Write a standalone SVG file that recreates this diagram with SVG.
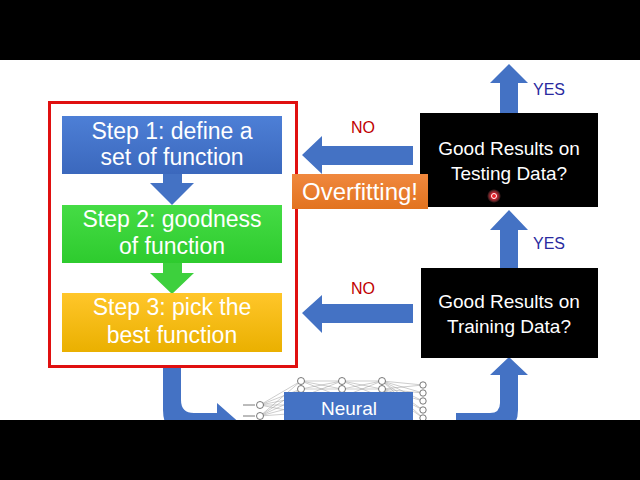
<svg xmlns="http://www.w3.org/2000/svg" width="640" height="480" viewBox="0 0 640 480">
<defs>
<linearGradient id="gBlue" x1="0" y1="0" x2="0" y2="1"><stop offset="0" stop-color="#4d7fd6"/><stop offset="1" stop-color="#3b68bd"/></linearGradient>
<linearGradient id="gGreen" x1="0" y1="0" x2="0" y2="1"><stop offset="0" stop-color="#45dc45"/><stop offset="1" stop-color="#2ecb2e"/></linearGradient>
<linearGradient id="gOrange" x1="0" y1="0" x2="0" y2="1"><stop offset="0" stop-color="#ffc62a"/><stop offset="1" stop-color="#eab000"/></linearGradient>
<linearGradient id="gOver" x1="0" y1="0" x2="0" y2="1"><stop offset="0" stop-color="#f0883e"/><stop offset="1" stop-color="#e2731f"/></linearGradient>
<radialGradient id="gDot"><stop offset="0" stop-color="#ff2020"/><stop offset="0.45" stop-color="#e02030" stop-opacity="0.9"/><stop offset="1" stop-color="#ff8080" stop-opacity="0"/></radialGradient>
</defs>
<style>
text{font-family:"Liberation Sans","Open Sans",Arial,sans-serif;text-anchor:middle}
.w{fill:#ffffff;font-size:19px}
.s{fill:#ffffff;font-size:23px}
.no{fill:#c00000;font-size:16px}
.yes{fill:#2a2aa0;font-size:16px}
.arrow{fill:#4472c4}
.edge{stroke:#9a9a9a;stroke-width:0.5;fill:none}
.nd{fill:#ffffff;stroke:#555555;stroke-width:0.8}
</style>
<rect x="0" y="0" width="640" height="480" fill="#ffffff"/>

<g id="connectors">
<path d="M163,174 L182,174 L182,183 L194,183 L172,205 L150,183 L163,183 Z" class="arrow"/>
<path d="M163,263 L182,263 L182,273 L194,273 L172,294 L150,273 L163,273 Z" fill="#3dd03d"/>
<path d="M413,146 L413,165 L322,165 L322,174 L302,155 L322,136 L322,146 Z" class="arrow"/>
<path d="M413,304 L413,323 L322,323 L322,333 L302,313 L322,295 L322,304 Z" class="arrow"/>
<path d="M500,268 L500,230 L490,230 L509,210 L528,230 L518,230 L518,268 Z" class="arrow"/>
<path d="M500,113 L500,83 L490,83 L509,64 L528,83 L518,83 L518,113 Z" class="arrow"/>
<path d="M163,367 L181,367 L181,400 Q181,413 194,413 L217,413 L217,403 L242,425 L217,447 L217,437 L190,437 Q163,437 163,410 Z" class="arrow"/>
<path d="M456,413 L490,413 Q500,413 500,403 L500,375 L490,375 L509,357 L528,375 L518,375 L518,410 Q518,431 497,431 L456,431 Z" class="arrow"/>
<text x="363" y="133" class="no">NO</text>
<text x="363" y="294" class="no">NO</text>
<text x="549" y="95" class="yes">YES</text>
<text x="549" y="249" class="yes">YES</text>
</g>

<g id="frame">
<rect x="49.5" y="102.5" width="247" height="264" fill="none" stroke="#e01010" stroke-width="3"/>
</g>

<g id="step1">
<rect x="62" y="116" width="220" height="58" fill="url(#gBlue)"/>
<text x="172" y="139" class="s">Step 1: define a</text>
<text x="172" y="165" class="s">set of function</text>
</g>
<g id="step2">
<rect x="62" y="205" width="220" height="58" fill="url(#gGreen)"/>
<text x="172" y="227" class="s">Step 2: goodness</text>
<text x="172" y="254" class="s">of function</text>
</g>
<g id="step3">
<rect x="62" y="293" width="220" height="59" fill="url(#gOrange)"/>
<text x="172" y="315" class="s">Step 3: pick the</text>
<text x="172" y="343" class="s">best function</text>
</g>

<g id="testing">
<rect x="420" y="113" width="178" height="94" fill="#000000"/>
<text x="509" y="155" class="w">Good Results on</text>
<text x="509" y="180" class="w">Testing Data?</text>
<circle cx="494" cy="196" r="7" fill="url(#gDot)"/>
<circle cx="494" cy="196" r="2.5" fill="none" stroke="#ffffff" stroke-width="1"/>
</g>

<g id="training">
<rect x="421" y="268" width="177" height="90" fill="#000000"/>
<text x="509" y="308" class="w">Good Results on</text>
<text x="509" y="333" class="w">Training Data?</text>
</g>

<g id="overfitting">
<rect x="292" y="174" width="136" height="35" fill="url(#gOver)"/>
<text x="360" y="200" fill="#ffffff" font-size="24">Overfitting!</text>
</g>

<g id="network">
<g class="edge">
<path d="M260,405 L301,381 M260,405 L301,389 M260,405 L301,397 M260,405 L301,405 M260,405 L301,413 M260,416 L301,381 M260,416 L301,389 M260,416 L301,397 M260,416 L301,405 M260,416 L301,413"/>
<path d="M301,381 L342,381 M301,381 L342,389 M301,389 L342,381 M301,389 L342,389 M301,381 L342,397 M301,397 L342,381"/>
<path d="M342,381 L382,381 M342,381 L382,389 M342,389 L382,381 M342,389 L382,389 M342,381 L382,397 M342,397 L382,381"/>
<path d="M382,381 L423,385 M382,381 L423,393 M382,381 L423,401 M382,381 L423,410 M382,381 L423,418 M382,389 L423,385 M382,389 L423,393 M382,389 L423,401 M382,389 L423,410 M382,389 L423,418"/>
</g>
<path d="M243,405 L255,405 M243,416 L255,416" stroke="#555555" stroke-width="0.8"/>
<circle cx="260" cy="405" r="3.5" class="nd"/>
<circle cx="260" cy="416" r="3.5" class="nd"/>
<circle cx="301" cy="381" r="3.5" class="nd"/>
<circle cx="301" cy="389" r="3.5" class="nd"/>
<circle cx="342" cy="381" r="3.5" class="nd"/>
<circle cx="342" cy="389" r="3.5" class="nd"/>
<circle cx="382" cy="381" r="3.5" class="nd"/>
<circle cx="382" cy="389" r="3.5" class="nd"/>
<circle cx="423" cy="385" r="3.2" class="nd"/>
<circle cx="423" cy="393" r="3.2" class="nd"/>
<circle cx="423" cy="401" r="3.2" class="nd"/>
<circle cx="423" cy="410" r="3.2" class="nd"/>
<circle cx="423" cy="418" r="3.2" class="nd"/>
<rect x="284" y="392" width="129" height="40" fill="#4472c4"/>
<text x="349" y="415" class="w">Neural</text>
</g>

<rect x="0" y="0" width="640" height="60" fill="#000000"/>
<rect x="0" y="420" width="640" height="60" fill="#000000"/>
</svg>
